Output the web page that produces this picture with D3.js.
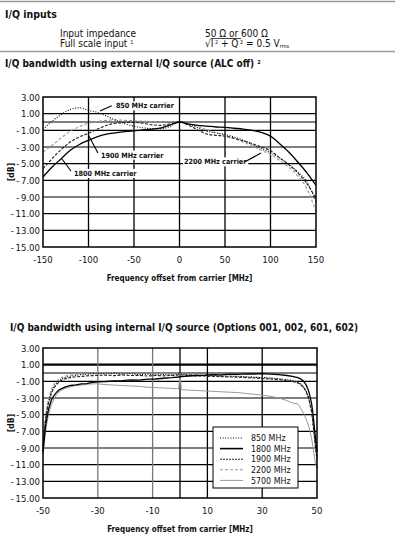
<!DOCTYPE html>
<html>
<head>
<meta charset="utf-8">
<script src="https://cdn.jsdelivr.net/npm/d3@7"></script>
<style>
  body { margin: 0; background: #fff; }
</style>
</head>
<body>
<svg id="chart" width="395" height="555"></svg>
<script>
// values
const yTicks = [3, 1, -1, -3, -5, -7, -9, -11, -13, -15];
const yGrid = [1, 0, -1, -3, -5, -7, -9, -11, -13];

const extTicks = [-150, -100, -50, 0, 50, 100, 150];
const extFreq = [-150, -140, -130, -120, -110, -100, -90, -80, -70, -60, -50, -40, -30, -20, -10, 0,
  10, 20, 30, 40, 50, 60, 70, 80, 90, 100, 110, 120, 130, 140, 150];
const ext850 = [-0.9, 0.1, 0.9, 1.5, 1.7, 1.4, 1.15, 0.7, 0.2, -0.2, -0.5, -0.7, -0.8, -0.8, -0.5, 0,
  -0.3, -0.7, -1.1, -1.3, -1.5, -1.8, -2.2, -2.7, -3.2, -3.7, -4.3, -5.1, -6.0, -7.2, -9.5];
const ext1800 = [-6.6, -5.4, -4.4, -3.4, -2.7, -2.2, -1.75, -1.45, -1.3, -1.15, -1.05, -0.95, -0.85, -0.7, -0.35, 0,
  -0.25, -0.4, -0.5, -0.6, -0.65, -0.75, -0.85, -1.0, -1.25, -1.7, -2.6, -3.6, -4.8, -6.1, -7.6];
const ext1900 = [-5.6, -4.4, -3.3, -2.4, -1.8, -1.35, -0.85, -0.4, -0.15, -0.05, -0.05, -0.15, -0.35, -0.4, -0.2, 0,
  -0.4, -0.95, -1.45, -1.6, -1.7, -1.95, -2.25, -2.6, -3.0, -3.45, -4.3, -5.1, -6.1, -7.4, -9.2];
const ext2200 = [-3.6, -2.8, -1.9, -1.1, -0.55, -0.15, 0.05, 0.2, 0.25, 0.2, 0.15, 0.1, 0.05, 0.05, 0.05, 0,
  -0.2, -0.55, -0.95, -1.3, -1.6, -2.0, -2.4, -2.9, -3.4, -3.9, -4.6, -5.4, -6.5, -8.0, -10.8];

const intTicks = [-50, -30, -10, 10, 30, 50];
const intFreq = [-50, -49.5, -49, -48, -47, -46, -45, -44, -43, -42,
  -40, -38, -36, -34, -32, -30,
  -27, -24, -21, -18, -15, -12, -9, -6, -3,
  -0.5, 0, 0.5,
  3, 6, 9, 12, 15, 18, 21, 24, 27, 30,
  33, 36, 39, 41, 43,
  44, 45, 46, 47, 48,
  48.5, 49, 49.5, 50];
const int850 = [-8.8, -6.9, -5.2, -3.4, -2.3, -1.6, -1.2, -0.9, -0.7, -0.55,
  -0.4, -0.28, -0.2, -0.16, -0.08, -0.05,
  -0.12, -0.04, -0.15, -0.08, -0.2, -0.12, -0.24, -0.18, -0.26,
  -0.15, -0.1, -0.14,
  -0.22, -0.25, -0.3, -0.28, -0.36, -0.4, -0.38, -0.46, -0.5, -0.55,
  -0.6, -0.7, -0.8, -0.9, -1.1,
  -1.3, -1.6, -2.1, -3.0, -4.5,
  -5.8, -7.3, -8.9, -10.2];
const int1800 = [-9.5, -7.8, -6.2, -4.4, -3.3, -2.7, -2.3, -2.0, -1.85, -1.7,
  -1.5, -1.42, -1.3, -1.27, -1.12, -1.05,
  -1.02, -0.94, -0.92, -0.83, -0.86, -0.74, -0.72, -0.63, -0.56,
  -0.48, -0.45, -0.44,
  -0.36, -0.3, -0.27, -0.2, -0.22, -0.14, -0.16, -0.1, -0.12, -0.08,
  -0.14, -0.2, -0.3, -0.4, -0.55,
  -0.7, -0.95, -1.4, -2.2, -3.6,
  -4.8, -6.4, -8.0, -9.4];
const int1900 = [-9.2, -7.3, -5.6, -3.7, -2.5, -1.8, -1.35, -1.05, -0.85, -0.7,
  -0.55, -0.45, -0.42, -0.35, -0.32, -0.28,
  -0.26, -0.32, -0.24, -0.3, -0.28, -0.36, -0.3, -0.34, -0.3,
  -0.22, -0.2, -0.24,
  -0.3, -0.35, -0.36, -0.42, -0.44, -0.48, -0.5, -0.56, -0.6, -0.66,
  -0.72, -0.8, -0.9, -1.0, -1.2,
  -1.4, -1.7, -2.2, -3.1, -4.6,
  -5.9, -7.4, -9.0, -10.4];
const int2200 = [-8.5, -6.6, -4.9, -3.1, -2.0, -1.35, -0.95, -0.7, -0.5, -0.4,
  -0.25, -0.15, -0.1, -0.06, 0.0, 0.02,
  -0.04, 0.0, -0.08, -0.02, -0.1, -0.06, -0.12, -0.08, -0.14,
  -0.1, -0.05, -0.1,
  -0.18, -0.22, -0.28, -0.3, -0.34, -0.38, -0.42, -0.45, -0.5, -0.56,
  -0.62, -0.72, -0.85, -0.95, -1.15,
  -1.35, -1.65, -2.2, -3.1, -4.6,
  -5.9, -7.5, -9.1, -10.6];
const int5700 = [-9.8, -8.2, -6.8, -5.0, -3.9, -3.1, -2.6, -2.25, -2.0, -1.85,
  -1.65, -1.5, -1.45, -1.35, -1.3, -1.3,
  -1.4, -1.45, -1.5, -1.56, -1.6, -1.7, -1.74, -1.8, -1.85,
  -1.9, -0.2, -2.0,
  -2.05, -2.1, -2.15, -2.2, -2.25, -2.3, -2.35, -2.45, -2.55, -2.65,
  -2.8, -3.0, -3.3, -3.6, -3.7,
  -4.2, -4.8, -5.5, -6.4, -7.8,
  -8.8, -10.0, -11.0, -11.6];

const legendLabels = ["850 MHz", "1800 MHz", "1900 MHz", "2200 MHz", "5700 MHz"];

const FONT = "'DejaVu Sans Condensed','Liberation Sans Narrow',sans-serif";

const styles = {
  "850":  { stroke: "#000", width: 1.1, dash: "1,1.6" },
  "1800": { stroke: "#000", width: 1.3, dash: null },
  "1900": { stroke: "#222", width: 1.1, dash: "3,1.5" },
  "2200": { stroke: "#999", width: 1.1, dash: "3,2" },
  "5700": { stroke: "#999", width: 1.0, dash: null }
};

const svg = d3.select("#chart");
svg.append("rect").attr("width", 395).attr("height", 555).attr("fill", "#fff");

// ---- header block ----
svg.append("line").attr("x1", 0).attr("x2", 395).attr("y1", 1.5).attr("y2", 1.5)
  .attr("stroke", "#999").attr("stroke-width", 1.5);
svg.append("line").attr("x1", 0).attr("x2", 395).attr("y1", 51.5).attr("y2", 51.5)
  .attr("stroke", "#999").attr("stroke-width", 1.5);

function txt(x, y, s, size, weight) {
  return svg.append("text").attr("x", x).attr("y", y)
    .attr("font-family", FONT).attr("font-size", size)
    .attr("font-weight", weight || "normal").attr("fill", "#111").text(s);
}

txt(5, 18, "I/Q inputs", 10.5, "bold");
txt(60, 37, "Input impedance", 10);
txt(205, 37, "50 Ω or 600 Ω", 10);
const fs = txt(60, 47, "Full scale input ", 10);
fs.append("tspan").attr("font-size", 5.5).attr("dy", -3.5).text("1");

const sq = svg.append("text").attr("x", 205).attr("y", 47)
  .attr("font-family", FONT).attr("font-size", 10).attr("fill", "#111");
sq.append("tspan").text("√I");
sq.append("tspan").attr("font-size", 5.5).attr("dy", -3.5).text(" 2");
sq.append("tspan").attr("dy", 3.5).text(" + Q");
sq.append("tspan").attr("font-size", 5.5).attr("dy", -3.5).text(" 2");
sq.append("tspan").attr("dy", 3.5).text(" = 0.5 V");
sq.append("tspan").attr("font-size", 5.5).attr("dy", 1).text("rms");
{
  const n = sq.node();
  const x0 = n.getEndPositionOfChar(0).x;
  const x1 = n.getEndPositionOfChar(8).x + 1;
  svg.append("line").attr("x1", x0).attr("x2", x1).attr("y1", 38.5).attr("y2", 38.5)
    .attr("stroke", "#111").attr("stroke-width", 0.8);
}

const t1 = txt(5, 67, "I/Q bandwidth using external I/Q source (ALC off) ", 10, "bold");
t1.append("tspan").attr("font-size", 5.5).attr("dy", -3.5).text("2");
txt(10, 331, "I/Q bandwidth using internal I/Q source (Options 001, 002, 601, 602)", 10, "bold");

// ---- chart drawing ----
function drawChart(cfg) {
  const g = svg.append("g");
  const x = d3.scaleLinear().domain(cfg.domain).range([cfg.left, cfg.right]);
  const y = d3.scaleLinear().domain([3, -15]).range([cfg.top, cfg.bottom]);

  // horizontal grid
  g.selectAll(".hg").data(yGrid).enter().append("line")
    .attr("x1", cfg.left).attr("x2", cfg.right)
    .attr("y1", d => y(d)).attr("y2", d => y(d))
    .attr("stroke", "#000")
    .attr("stroke-width", d => (cfg.thick === d ? 2.2 : 1.2));

  // vertical grid
  g.selectAll(".vg").data(cfg.vgrid).enter().append("line")
    .attr("x1", d => x(d)).attr("x2", d => x(d))
    .attr("y1", cfg.top).attr("y2", cfg.bottom)
    .attr("stroke", d => (cfg.grayV.includes(d) ? "#777" : "#000"))
    .attr("stroke-width", 1.3);

  // curves
  const line = d3.line().x(d => x(d[0])).y(d => y(d[1])).curve(cfg.curve);
  cfg.series.forEach(s => {
    const st = styles[s.key];
    g.append("path")
      .datum(cfg.freq.map((f, i) => [f, s.values[i]]))
      .attr("d", line)
      .attr("fill", "none")
      .attr("stroke", st.stroke)
      .attr("stroke-width", st.width)
      .attr("stroke-dasharray", st.dash);
  });

  // frame
  g.append("rect").attr("x", cfg.left).attr("y", cfg.top)
    .attr("width", cfg.right - cfg.left).attr("height", cfg.bottom - cfg.top)
    .attr("fill", "none").attr("stroke", "#000").attr("stroke-width", 1.5);

  // y tick labels
  g.selectAll(".yl").data(yTicks).enter().append("text")
    .attr("x", cfg.left - 3).attr("y", d => y(d) + 3.5)
    .attr("text-anchor", "end")
    .attr("font-family", FONT).attr("font-size", 9.5).attr("fill", "#111")
    .text(d => (d < 0 ? "-\u2009" + d3.format(".2f")(-d) : d3.format(".2f")(d)));

  // x tick labels
  g.selectAll(".xl").data(cfg.ticks).enter().append("text")
    .attr("x", d => x(d)).attr("y", cfg.bottom + 16)
    .attr("text-anchor", "middle")
    .attr("font-family", FONT).attr("font-size", 9.5).attr("fill", "#111")
    .text(d => d);

  g.append("text")
    .attr("x", (cfg.left + cfg.right) / 2).attr("y", cfg.bottom + 34)
    .attr("text-anchor", "middle")
    .attr("font-family", FONT).attr("font-size", 8).attr("font-weight", "bold").attr("fill", "#111")
    .text("Frequency offset from carrier [MHz]");

  g.append("text")
    .attr("transform", `translate(14,${(cfg.top + cfg.bottom) / 2}) rotate(-90)`)
    .attr("text-anchor", "middle")
    .attr("font-family", FONT).attr("font-size", 8.5).attr("font-weight", "bold").attr("fill", "#111")
    .text("[dB]");

  return { g, x, y };
}

const c1 = drawChart({
  domain: [-150, 150], left: 43, right: 316, top: 97, bottom: 247,
  ticks: extTicks, vgrid: [-100, -50, 0, 50, 100], grayV: [], thick: null,
  freq: extFreq, curve: d3.curveMonotoneX,
  series: [
    { key: "2200", values: ext2200 },
    { key: "850", values: ext850 },
    { key: "1900", values: ext1900 },
    { key: "1800", values: ext1800 }
  ]
});

// carrier callouts
const callouts = [
  { text: "850 MHz carrier", tx: -71, ty: 1.95, from: [-87.4, 1.32], to: [-74.5, 1.95] },
  { text: "1900 MHz carrier", tx: -87.4, ty: -3.96, from: [-100.2, -1.56], to: [-89.6, -3.72] },
  { text: "1800 MHz carrier", tx: -117, ty: -6.16, from: [-129.1, -4.44], to: [-119.2, -5.88] },
  { text: "2200 MHz carrier", tx: 3.8, ty: -4.77, from: [89.6, -3.72], to: [72, -4.77] }
];
callouts.forEach(c => {
  const t = c1.g.append("text")
    .attr("x", c1.x(c.tx) + 1).attr("y", c1.y(c.ty) + 2.6)
    .attr("font-family", FONT).attr("font-size", 7.2).attr("font-weight", "bold").attr("fill", "#111")
    .text(c.text);
  const b = t.node().getBBox();
  c1.g.insert("rect", () => t.node())
    .attr("x", b.x - 1).attr("y", b.y).attr("width", b.width + 2).attr("height", b.height)
    .attr("fill", "#fff");
  c1.g.append("line")
    .attr("x1", c1.x(c.from[0])).attr("y1", c1.y(c.from[1]))
    .attr("x2", c1.x(c.to[0])).attr("y2", c1.y(c.to[1]))
    .attr("stroke", "#000").attr("stroke-width", 1.1);
});

const c2 = drawChart({
  domain: [-50, 50], left: 43, right: 317, top: 348, bottom: 498,
  ticks: intTicks, vgrid: [-30, -10, 0, 10, 30], grayV: [-30, -10], thick: 1,
  freq: intFreq, curve: d3.curveLinear,
  series: [
    { key: "5700", values: int5700 },
    { key: "2200", values: int2200 },
    { key: "850", values: int850 },
    { key: "1900", values: int1900 },
    { key: "1800", values: int1800 }
  ]
});

// legend
const legKeys = ["850", "1800", "1900", "2200", "5700"];
const lg = svg.append("g").attr("transform", "translate(213,427)");
lg.append("rect").attr("width", 85).attr("height", 61)
  .attr("fill", "#fff").attr("stroke", "#000").attr("stroke-width", 1);
legKeys.forEach((k, i) => {
  const st = styles[k];
  const yy = 11 + i * 10.6;
  lg.append("line").attr("x1", 7).attr("x2", 30).attr("y1", yy).attr("y2", yy)
    .attr("stroke", st.stroke).attr("stroke-width", k === "1800" ? 1.6 : st.width)
    .attr("stroke-dasharray", k === "1900" ? "2,1" : st.dash);
  lg.append("text").attr("x", 38).attr("y", yy + 3.2)
    .attr("font-family", FONT).attr("font-size", 8.8).attr("fill", "#111")
    .text(legendLabels[i]);
});
</script>
</body>
</html>
